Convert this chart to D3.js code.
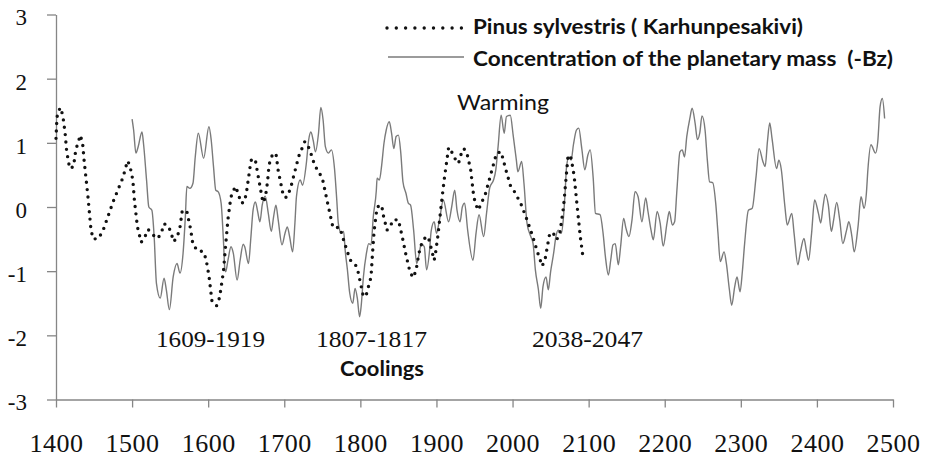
<!DOCTYPE html>
<html>
<head>
<meta charset="utf-8">
<script src="https://cdn.jsdelivr.net/npm/d3@7"></script>
<style>
  body { margin: 0; background: #fff; }
  #graf { width: 925px; height: 459px; }
  .eje path, .eje line { stroke: #868686; stroke-width: 1.3px; }
  .eje text { font-family: "Liberation Serif", "Times New Roman", serif !important; }
  text { white-space: pre; }
</style>
</head>
<body>
<div id="graf"></div>
<script>
// datos
// Pinus sylvestris (Karhunpesakivi)
pinusYears = [1400,1401,1402,1406,1409,1412,1414,1418,1423,1426,1432,1435,1437,1442,1446,1449,1456,1462,1475,1488,
  1494,1497,1501,1503,1507,1512,1517,1521,1528,1534,1539,1542,1548,1555,1560,1563,1566,1572,1577,1580,
  1587,1593,1597,1601,1605,1611,1615,1620,1623,1626,1629,1631,1636,1640,1643,1647,1650,1655,1657,1662,
  1666,1672,1675,1678,1680,1684,1689,1692,1699,1703,1708,1719,1727,1733,1740,1750,1757,1764,1773,1776,
  1783,1787,1793,1797,1804,1808,1814,1816,1818,1822,1828,1830,1835,1839,1843,1850,1855,1860,1865,1869,
  1873,1877,1880,1885,1889,1892,1897,1899,1902,1906,1910,1916,1920,1924,1929,1932,1936,1940,1945,1949,
  1952,1955,1959,1964,1970,1979,1985,1991,1997,2002,2011,2019,2026,2033,2039,2043,2049,2054,2058,2062,
  2067,2073,2077,2081,2085,2089,2092]
pinusValues = [1.07,1.33,1.47,1.55,1.42,1.15,0.87,0.60,0.63,0.89,1.12,0.99,0.72,0.16,-0.36,-0.50,-0.49,-0.36,0.08,0.46,
  0.72,0.65,0.42,0.11,-0.31,-0.55,-0.46,-0.35,-0.44,-0.49,-0.38,-0.26,-0.30,-0.54,-0.44,-0.31,-0.05,-0.07,-0.35,-0.59,
  -0.69,-0.69,-0.80,-1.07,-1.47,-1.54,-1.41,-1.01,-0.59,-0.19,0.08,0.21,0.32,0.19,0.06,0.07,0.20,0.62,0.75,0.73,
  0.46,0.07,0.14,0.39,0.66,0.80,0.84,0.57,0.16,0.15,0.28,0.79,1.02,0.91,0.65,0.45,0.06,-0.32,-0.32,-0.44,
  -0.70,-0.83,-0.88,-1.01,-1.40,-1.36,-1.09,-0.72,-0.38,0.00,0.03,-0.12,-0.36,-0.31,-0.20,-0.20,-0.46,-0.75,-1.00,-1.10,
  -1.00,-0.72,-0.59,-0.48,-0.46,-0.59,-0.83,-0.70,-0.44,0.00,0.41,0.93,0.86,0.76,0.68,0.81,0.91,0.84,0.58,0.16,
  0.03,-0.05,0.06,0.19,0.45,0.84,0.86,0.59,0.34,0.25,0.05,-0.20,-0.44,-0.71,-0.92,-0.80,-0.40,-0.42,-0.51,-0.42,
  0.00,0.81,0.76,0.48,0.00,-0.46,-0.73]

// Concentration of the planetary mass (-Bz)
massYears = [1500,1502,1505,1508,1513,1515,1519,1522,1526,1529,1532,1537,1542,1545,1549,1554,1559,1563,1567,1570,
  1572,1576,1580,1583,1587,1594,1601,1604,1607,1610,1613,1617,1620,1622,1623,1626,1630,1633,1638,1642,
  1646,1648,1653,1656,1659,1662,1665,1668,1671,1675,1679,1683,1686,1689,1692,1697,1701,1704,1707,1711,
  1714,1716,1721,1724,1729,1732,1735,1738,1741,1745,1748,1751,1754,1758,1762,1766,1769,1771,1775,1778,
  1780,1783,1786,1790,1793,1796,1799,1801,1804,1808,1811,1814,1817,1821,1822,1825,1828,1831,1834,1838,
  1841,1844,1847,1850,1853,1856,1860,1863,1866,1870,1874,1877,1880,1884,1887,1891,1893,1897,1900,1904,
  1909,1916,1920,1924,1927,1931,1934,1937,1941,1948,1952,1956,1962,1966,1970,1975,1978,1981,1985,1989,
  1992,1997,2001,2005,2007,2012,2015,2019,2024,2027,2030,2034,2037,2040,2044,2047,2050,2054,2057,2060,
  2064,2067,2069,2071,2074,2077,2080,2084,2087,2091,2095,2099,2102,2106,2109,2115,2119,2122,2126,2129,
  2132,2135,2139,2142,2146,2149,2153,2157,2161,2165,2170,2175,2178,2182,2185,2190,2194,2198,2203,2206,
  2210,2213,2216,2220,2223,2226,2229,2233,2236,2240,2243,2246,2249,2253,2256,2259,2263,2267,2270,2273,
  2278,2281,2285,2288,2292,2295,2299,2302,2305,2310,2315,2320,2324,2329,2332,2335,2338,2341,2347,2350,
  2353,2358,2361,2367,2370,2375,2378,2383,2386,2389,2393,2397,2402,2405,2408,2411,2415,2419,2422,2426,
  2430,2434,2439,2442,2446,2449,2454,2458,2462,2465,2467,2471,2477,2480,2483,2486,2489]
massValues = [1.37,1.20,0.84,0.94,1.17,0.99,0.42,0.00,-0.05,-0.46,-1.19,-1.42,-1.11,-1.29,-1.60,-1.09,-0.88,-1.03,-0.72,-0.15,
  0.32,0.29,0.37,0.78,1.15,0.76,1.25,1.04,0.63,0.26,0.24,0.06,-0.51,-0.98,-1.01,-0.83,-0.62,-0.72,-1.14,-0.83,
  -0.58,-0.62,-0.88,-0.49,-0.05,0.08,-0.07,-0.23,0.03,0.17,-0.10,-0.38,-0.15,0.03,-0.20,-0.59,-0.41,-0.31,-0.46,-0.70,
  -0.25,0.16,0.42,0.34,0.68,1.04,1.17,1.04,0.86,1.15,1.55,1.36,0.94,0.84,0.89,0.60,0.11,-0.25,-0.41,-0.38,
  -0.67,-0.98,-1.34,-1.50,-1.27,-1.42,-1.71,-1.55,-1.09,-0.72,-0.57,-0.59,-0.15,0.26,0.45,0.42,0.65,0.99,1.20,1.33,
  1.15,0.91,1.10,1.12,0.86,0.39,0.21,0.06,0.03,-0.36,-0.88,-0.75,-0.57,-0.62,-0.98,-0.67,-0.38,-0.23,-0.41,-0.20,
  0.11,-0.23,0.00,0.26,-0.05,-0.23,0.00,0.06,-0.36,-0.83,-0.41,-0.12,-0.46,-0.08,0.30,0.42,0.58,0.94,1.43,1.15,
  1.41,1.43,1.10,0.73,0.55,0.71,0.37,-0.25,-0.46,-0.57,-0.98,-1.29,-1.58,-1.24,-1.09,-1.29,-1.01,-0.72,-0.46,-0.36,
  -0.41,-0.15,0.21,0.63,0.78,0.73,0.97,1.20,1.23,0.91,0.58,0.81,0.89,0.45,-0.10,-0.12,-0.41,-0.77,-1.06,-0.83,
  -0.59,-0.57,-0.90,-0.62,-0.18,-0.33,-0.46,-0.20,0.24,0.16,-0.23,0.14,-0.07,-0.36,-0.51,-0.07,-0.25,-0.61,-0.25,-0.07,
  -0.28,-0.23,0.26,0.86,0.89,0.78,1.10,1.38,1.54,1.30,1.05,1.15,1.42,1.20,0.73,0.39,0.38,0.06,-0.41,-0.85,
  -0.70,-0.88,-1.29,-1.53,-1.24,-1.09,-1.32,-1.01,-0.57,-0.05,-0.02,0.47,0.91,0.71,0.63,1.02,1.31,1.07,0.60,0.73,
  0.60,0.00,-0.28,-0.10,-0.41,-0.90,-0.72,-0.49,-0.67,-0.83,-0.41,0.11,-0.10,-0.25,0.00,0.20,0.03,-0.38,-0.20,0.07,
  -0.20,-0.57,-0.36,-0.23,-0.46,-0.70,-0.31,0.16,-0.02,0.21,0.58,0.97,0.84,1.02,1.56,1.69,1.38]

xTicks = [1400,1500,1600,1700,1800,1900,2000,2100,2200,2300,2400,2500]
yTicks = [-3,-2,-1,0,1,2,3]

legendLabels = ['Pinus sylvestris ( Karhunpesakivi)', 'Concentration of the planetary mass  (-Bz)']

// I. Configuracion
ancho_total = 925
alto_total = 459
serif = '"Liberation Serif", "Times New Roman", serif'

svg = d3.select('#graf').append('svg')
        .attr('width', ancho_total)
        .attr('height', alto_total)

x = d3.scaleLinear().domain([1400, 2500]).range([56, 893])
y = d3.scaleLinear().domain([-3, 3]).range([399.5, 14.5])

// ejes
yAxisCall = d3.axisLeft(y)
              .tickValues(yTicks)
              .tickSize(9)
              .tickSizeOuter(0)
              .tickPadding(20)
              .tickFormat(d => String(d))

yAxisGroup = svg.append('g')
                .attr('class', 'eje')
                .attr('transform', `translate(${x(1400)}, 0)`)
                .call(yAxisCall)
                .attr('font-family', null)
yAxisGroup.selectAll('text')
          .style('font-family', serif)
          .style('font-size', '23px')
          .attr('fill', '#111')
          .attr('dy', '0.45em')

xAxisCall = d3.axisBottom(x)
              .tickValues(xTicks)
              .tickSize(8)
              .tickSizeOuter(0)
              .tickPadding(26)
              .tickFormat(d => String(d))

xAxisGroup = svg.append('g')
                .attr('class', 'eje')
                .attr('transform', `translate(0, ${y(-3)})`)
                .call(xAxisCall)
                .attr('font-family', null)
xAxisGroup.selectAll('text')
          .style('font-family', serif)
          .style('font-size', '26px')
          .attr('fill', '#111')
          .attr('letter-spacing', '0.5px')

// lineas
pinus = pinusYears.map((d, i) => ({ year: d, value: pinusValues[i] }))
mass = massYears.map((d, i) => ({ year: d, value: massValues[i] }))

line = d3.line()
         .x(d => x(d.year))
         .y(d => y(d.value))

svg.append('path')
   .datum(mass)
   .attr('d', line.curve(d3.curveMonotoneX))
   .attr('fill', 'none')
   .attr('stroke', '#7a7a7a')
   .attr('stroke-width', 1.4)

svg.append('path')
   .datum(pinus)
   .attr('d', line.curve(d3.curveLinear))
   .attr('fill', 'none')
   .attr('stroke', '#111')
   .attr('stroke-width', 3.4)
   .attr('stroke-linecap', 'round')
   .attr('stroke-dasharray', '0 7.4')

// leyenda
svg.append('line')
   .attr('x1', 387).attr('x2', 462)
   .attr('y1', 28).attr('y2', 28)
   .attr('stroke', '#111')
   .attr('stroke-width', 3.4)
   .attr('stroke-linecap', 'round')
   .attr('stroke-dasharray', '0 9.3')

svg.append('line')
   .attr('x1', 388).attr('x2', 464)
   .attr('y1', 57).attr('y2', 57)
   .attr('stroke', '#7a7a7a')
   .attr('stroke-width', 1.4)

legendPos = [{ y: 34, w: 330 }, { y: 66, w: 420 }]
legendLabels.forEach((t, i) => {
  svg.append('text')
     .attr('x', 473)
     .attr('y', legendPos[i].y)
     .attr('font-family', 'Lato, sans-serif')
     .attr('font-weight', 'bold')
     .attr('font-size', '21px')
     .attr('fill', '#111')
     .attr('textLength', legendPos[i].w)
     .attr('lengthAdjust', 'spacingAndGlyphs')
     .text(t)
})

// anotaciones
notas = [
  { t: 'Warming', x: 457, y: 110, w: 92, fam: 'Lato, sans-serif', wt: 'normal', fs: 21 },
  { t: '1609-1919', x: 156, y: 347, w: 109, fam: serif, wt: 'normal', fs: 24 },
  { t: '1807-1817', x: 316, y: 347, w: 111, fam: serif, wt: 'normal', fs: 24 },
  { t: 'Coolings', x: 340, y: 376, w: 84, fam: 'Lato, sans-serif', wt: 'bold', fs: 21 },
  { t: '2038-2047', x: 532, y: 347, w: 111, fam: serif, wt: 'normal', fs: 24 }
]
notas.forEach(n => {
  svg.append('text')
     .attr('x', n.x)
     .attr('y', n.y)
     .attr('font-family', n.fam)
     .attr('font-weight', n.wt)
     .attr('font-size', `${n.fs}px`)
     .attr('fill', '#111')
     .attr('textLength', n.w)
     .attr('lengthAdjust', 'spacingAndGlyphs')
     .text(n.t)
})
</script>
</body>
</html>
